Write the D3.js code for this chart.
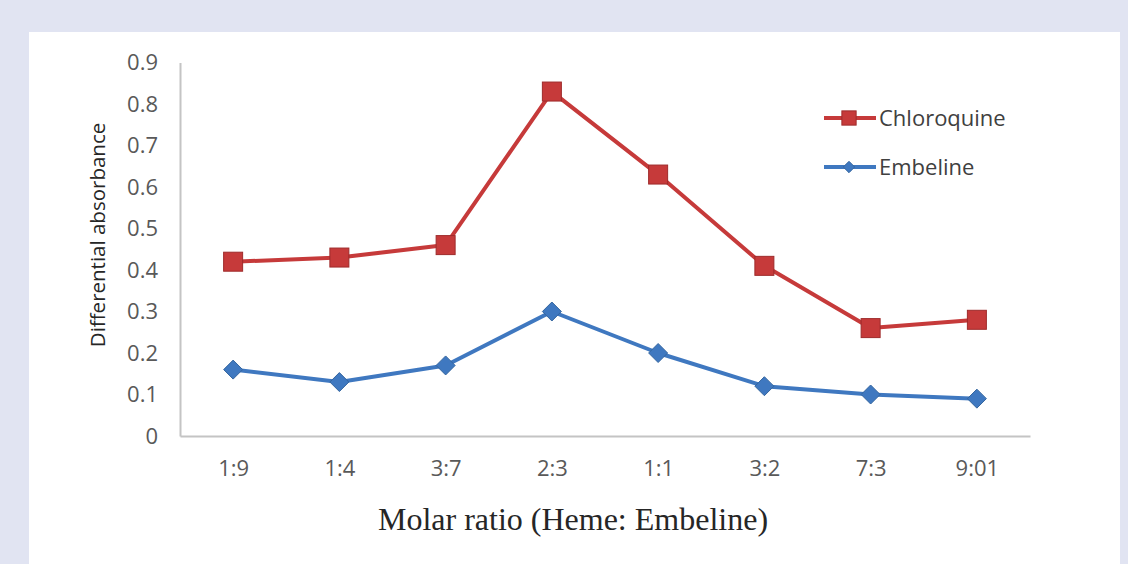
<!DOCTYPE html>
<html>
<head>
<meta charset="utf-8">
<script src="https://cdn.jsdelivr.net/npm/d3@7"></script>
<style>
  html, body { margin: 0; padding: 0; background: #e1e4f2; }
  svg { display: block; }
</style>
</head>
<body>
<div id="chart"></div>
<script>
// chart data
var categories = ['1:9', '1:4', '3:7', '2:3', '1:1', '3:2', '7:3', '9:01'];
var chloroquine = [0.42, 0.43, 0.46, 0.83, 0.63, 0.41, 0.26, 0.28];
var embeline = [0.16, 0.13, 0.17, 0.30, 0.20, 0.12, 0.10, 0.09];
var yTicks = [0, 0.1, 0.2, 0.3, 0.4, 0.5, 0.6, 0.7, 0.8, 0.9];

var W = 1128, H = 564;
var margin = { top: 62.5, right: 98, bottom: 128, left: 180 };
var width = W - margin.left - margin.right;
var height = H - margin.top - margin.bottom;

var root = d3.select('#chart').append('svg')
    .attr('width', W)
    .attr('height', H);

// white panel on the lavender page
root.append('rect')
    .attr('x', 29).attr('y', 32)
    .attr('width', 1120 - 29).attr('height', H - 32)
    .attr('fill', '#ffffff');

var svg = root.append('g')
    .attr('transform', 'translate(' + margin.left + ',' + margin.top + ')');

var x = d3.scalePoint()
    .domain(categories)
    .range([0, width])
    .padding(0.5);
var y = d3.scaleLinear()
    .domain([0, 0.9])
    .range([height, 0]);

function styleAxis(g) {
    g.select('.domain').attr('stroke', '#c4c4c4').attr('stroke-width', 2);
    g.selectAll('.tick text')
        .attr('fill', '#595959')
        .style('font-family', '"Open Sans", "Noto Sans", sans-serif')
        .style('font-size', '22px');
}

// axes
var yAxis = d3.axisLeft(y)
    .tickValues(yTicks)
    .tickSize(0)
    .tickPadding(22)
    .tickFormat(function(d) { return d === 0 ? '0' : d3.format('.1f')(d); });
svg.append('g')
    .attr('class', 'axis y-axis')
    .call(yAxis)
    .call(styleAxis);

var xAxis = d3.axisBottom(x)
    .tickSize(0)
    .tickPadding(24);
svg.append('g')
    .attr('class', 'axis x-axis')
    .attr('transform', 'translate(0,' + height + ')')
    .call(xAxis)
    .call(styleAxis);

// axis labels
svg.append('text')
    .attr('x', 573 - margin.left)
    .attr('y', 530 - margin.top)
    .attr('text-anchor', 'middle')
    .attr('fill', '#262626')
    .style('font-family', '"Liberation Serif", "DejaVu Serif", serif')
    .style('font-size', '32px')
    .text('Molar ratio (Heme: Embeline)');

svg.append('text')
    .attr('transform', 'rotate(-90)')
    .attr('x', -(235 - margin.top))
    .attr('y', 105 - margin.left)
    .attr('text-anchor', 'middle')
    .attr('fill', '#262626')
    .style('font-family', '"Open Sans", "Noto Sans", sans-serif')
    .style('font-size', '20.5px')
    .text('Differential absorbance');

// series
var series = [
    { name: 'Chloroquine', values: chloroquine, color: '#c63a3a', edge: '#9e2b2b', symbol: 'square' },
    { name: 'Embeline', values: embeline, color: '#3f78c0', edge: '#35669f', symbol: 'diamond' }
];

var line = d3.line()
    .x(function(d, i) { return x(categories[i]); })
    .y(function(d) { return y(d); });

function marker(sel, s, cx, cy, scale) {
    if (s.symbol === 'square') {
        var sz = 19 * scale;
        sel.append('rect')
            .attr('x', cx - sz / 2).attr('y', cy - sz / 2)
            .attr('width', sz).attr('height', sz)
            .attr('fill', s.color)
            .attr('stroke', s.edge).attr('stroke-width', 1);
    } else {
        var r = 9.5 * scale;
        sel.append('path')
            .attr('d', 'M' + cx + ',' + (cy - r) + 'L' + (cx + r) + ',' + cy +
                'L' + cx + ',' + (cy + r) + 'L' + (cx - r) + ',' + cy + 'Z')
            .attr('fill', s.color)
            .attr('stroke', s.edge).attr('stroke-width', 1);
    }
}

series.forEach(function(s) {
    svg.append('path')
        .datum(s.values)
        .attr('fill', 'none')
        .attr('stroke', s.color)
        .attr('stroke-width', 4)
        .attr('stroke-linejoin', 'round')
        .attr('d', line);
    var g = svg.append('g');
    s.values.forEach(function(v, i) {
        marker(g, s, x(categories[i]), y(v), 1);
    });
});

// legend
var legend = root.append('g');
series.forEach(function(s, i) {
    var ly = 118 + i * 49;
    legend.append('line')
        .attr('x1', 824).attr('x2', 876)
        .attr('y1', ly).attr('y2', ly)
        .attr('stroke', s.color)
        .attr('stroke-width', 4);
    marker(legend, s, 849, ly, s.symbol === 'square' ? 0.75 : 0.6);
    legend.append('text')
        .attr('x', 879)
        .attr('y', ly)
        .attr('dy', '0.35em')
        .attr('fill', '#404040')
        .style('font-family', '"Open Sans", "Noto Sans", sans-serif')
        .style('font-size', '22px')
        .text(s.name);
});
</script>
</body>
</html>
